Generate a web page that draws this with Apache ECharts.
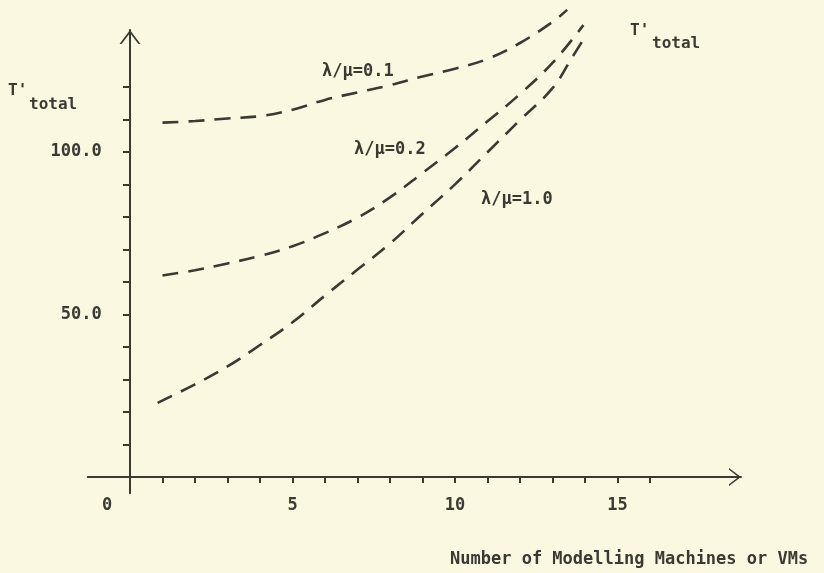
<!DOCTYPE html>
<html>
<head>
<meta charset="utf-8">
<script src="https://cdn.jsdelivr.net/npm/echarts@6/dist/echarts.min.js"></script>
<style>
html,body{margin:0;padding:0;background:#faf8e1;}
#chart{width:824px;height:573px;}
</style>
</head>
<body>
<div id="chart"></div>
<script>
// ---- data ----
const xLabelValues = [0, 5, 10, 15];
const xTickValues = [1,2,3,4,5,6,7,8,9,10,11,12,13,14,15,16];
const yLabelValues = [50, 100];
const yTickValues = [10,20,30,40,50,60,70,80,90,100,110,120];

const seriesNames = ['λ/μ=0.1', 'λ/μ=0.2', 'λ/μ=1.0'];
const x01 = [1, 2, 3, 4, 5, 6, 7, 8, 9, 10, 11, 12, 13, 13.45];
const y01 = [109, 109.5, 110.3, 111, 113, 116, 118.3, 120.5, 123.2, 125.6, 128.6, 133.5, 140, 143.7];
const x02 = [1, 2, 3, 4, 5, 6, 7, 8, 9, 10, 11, 12, 13, 13.95];
const y02 = [62, 63.6, 65.7, 68, 71, 75, 79.8, 86, 93.5, 101.2, 109.4, 117.8, 127.4, 139];
const x10 = [0.85, 2, 3, 4, 5, 6, 7, 8, 9, 10, 11, 12, 13, 13.6, 14];
const y10 = [22.8, 28.5, 34, 40.6, 47.6, 55.8, 63.8, 71.8, 81, 90, 99.9, 109.8, 119.6, 129, 135.4];

const axisTitleX = 'Number of Modelling Machines or VMs';
const axisTitleY = "T'";
const axisTitleSub = 'total';

const ink = '#3a3a33';
const font = "'DejaVu Sans Mono', monospace";
const chevron = 'path://M0,12 L9,0 L18,12 L16.2,12 L9,2.6 L1.8,12 Z';

function pairs(xs, ys){ return xs.map((x,i)=>[x, ys[i]]); }

const chart = echarts.init(document.getElementById('chart'));
const lineSeries = [[x01,y01],[x02,y02],[x10,y10]].map((d,i)=>({
  name: seriesNames[i],
  type: 'line',
  data: pairs(d[0], d[1]),
  smooth: 0.4,
  clip: false,
  showSymbol: false,
  symbol: 'none',
  lineStyle: {color: ink, width: 2.6, type: [16, 10]}
}));

const txt = (x, y, text, size) => ({type: 'text', style: {x, y, text, font: 'bold ' + size + 'px ' + font, fill: ink, textVerticalAlign: 'middle'}});

chart.setOption({
  backgroundColor: '#faf8e1',
  animation: false,
  grid: {left: 87.75, right: 83, top: 30, bottom: 79.75},
  xAxis: {
    type: 'value', min: -1.3, max: 18.8,
    splitLine: {show: false},
    axisLine: {onZero: true, lineStyle: {color: ink, width: 2}, symbol: ['none', chevron], symbolSize: [18, 12], symbolOffset: [0, -6]},
    axisTick: {show: true, customValues: xTickValues, length: 6, lineStyle: {color: ink, width: 2}},
    axisLabel: {
      customValues: xLabelValues, margin: 4, color: ink,
      fontFamily: font, fontSize: 17, fontWeight: 'bold',
      formatter: v => v === 0 ? '{z|0}' : String(v),
      rich: {z: {fontFamily: font, fontSize: 17, fontWeight: 'bold', color: ink, padding: [0, 46, 0, 0]}}
    }
  },
  yAxis: {
    type: 'value', min: -5, max: 137.5,
    splitLine: {show: false},
    axisLine: {onZero: true, lineStyle: {color: ink, width: 2}, symbol: ['none', chevron], symbolSize: [22, 14], symbolOffset: [0, -7]},
    axisTick: {show: true, customValues: yTickValues, length: 7, lineStyle: {color: ink, width: 2}},
    axisLabel: {
      customValues: yLabelValues, margin: -14, color: ink,
      fontFamily: font, fontSize: 17, fontWeight: 'bold',
      formatter: v => v.toFixed(1)
    }
  },
  series: lineSeries,
  graphic: [
    txt(8, 91, axisTitleY, 16),
    txt(29, 105, axisTitleSub, 16),
    txt(630, 31, axisTitleY, 16),
    txt(652, 44, axisTitleSub, 16),
    txt(322, 72, seriesNames[0], 17),
    txt(354, 150, seriesNames[1], 17),
    txt(481, 200, seriesNames[2], 17),
    txt(450, 560, axisTitleX, 17)
  ]
});
</script>
</body>
</html>
